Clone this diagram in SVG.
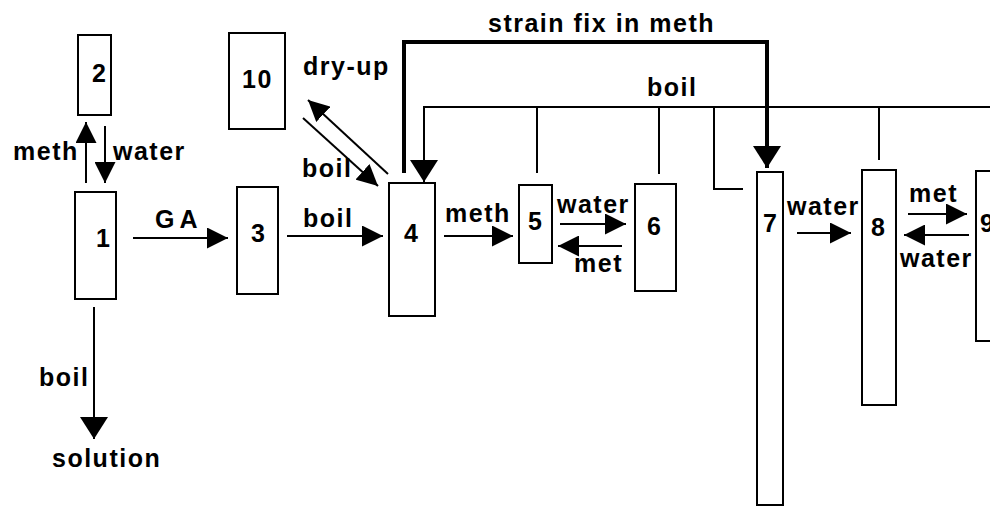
<svg xmlns="http://www.w3.org/2000/svg" width="990" height="506" viewBox="0 0 990 506">
<style>
.box{fill:#fff;stroke:#000;stroke-width:2}
.t{font-family:"Liberation Sans",Arial,sans-serif;font-weight:bold;font-size:25px;letter-spacing:1.5px;fill:#000}
.c{fill:none;stroke:#000;stroke-width:2}
.a{marker-end:url(#ah)}
.b{marker-end:url(#big)}
.thick{fill:none;stroke:#000;stroke-width:4}
</style>
<defs>
<marker id="ah" markerUnits="userSpaceOnUse" viewBox="0 0 21 21" markerWidth="21" markerHeight="21" refX="21" refY="10.5" orient="auto">
<path d="M0,0 L21,10.5 L0,21 Z" fill="#000"/>
</marker>
<marker id="big" markerUnits="userSpaceOnUse" viewBox="0 0 22 28" markerWidth="22" markerHeight="28" refX="22" refY="14" orient="auto">
<path d="M0,0 L22,14 L0,28 Z" fill="#000"/>
</marker>
</defs>
<rect width="990" height="506" fill="#fff"/>
<g id="connectors">
<line class="c a" x1="86" y1="183" x2="86" y2="122"/>
<line class="c a" x1="105" y1="126" x2="105" y2="183"/>
<line class="c a" x1="133" y1="238" x2="228" y2="238"/>
<line class="c a" x1="287" y1="236" x2="383" y2="236"/>
<line class="c a" x1="303" y1="118" x2="378" y2="186"/>
<line class="c a" x1="388" y1="174" x2="308" y2="100"/>
<line class="c b" x1="94" y1="307" x2="94" y2="439"/>
<path class="thick b" d="M404,173 V42 H767 V168"/>
<path class="c b" d="M990,107 H424 V182"/>
<path class="c" d="M537,107 V173 M659,107 V174 M714,107 V189 H743 M879,107 V160"/>
<line class="c a" x1="444" y1="236" x2="513" y2="236"/>
<line class="c a" x1="560" y1="224" x2="626" y2="224"/>
<line class="c a" x1="622" y1="246" x2="558" y2="246"/>
<line class="c a" x1="797" y1="233" x2="851" y2="233"/>
<line class="c a" x1="908" y1="214" x2="967" y2="214"/>
<line class="c a" x1="969" y1="235" x2="904" y2="235"/>
<text class="t" x="13" y="160">meth</text>
<text class="t" x="113" y="160">water</text>
<text class="t" x="155" y="228" style="letter-spacing:5px">GA</text>
<text class="t" x="303" y="227">boil</text>
<text class="t" x="302" y="177">boil</text>
<text class="t" x="303" y="75">dry-up</text>
<text class="t" x="488" y="32">strain fix in meth</text>
<text class="t" x="647" y="96">boil</text>
<text class="t" x="445" y="222">meth</text>
<text class="t" x="557" y="213">water</text>
<text class="t" x="574" y="272">met</text>
<text class="t" x="787" y="215">water</text>
<text class="t" x="909" y="202">met</text>
<text class="t" x="900" y="267">water</text>
<text class="t" x="39" y="386">boil</text>
<text class="t" x="52" y="467">solution</text>
</g>
<g id="n1"><rect class="box" x="75" y="192" width="41" height="107"/><text class="t" x="96" y="247">1</text></g>
<g id="n2"><rect class="box" x="78" y="35" width="33" height="80"/><text class="t" x="92" y="82">2</text></g>
<g id="n3"><rect class="box" x="237" y="187" width="41" height="107"/><text class="t" x="251" y="242">3</text></g>
<g id="n4"><rect class="box" x="389" y="183" width="46" height="133"/><text class="t" x="404" y="242">4</text></g>
<g id="n5"><rect class="box" x="519" y="185" width="33" height="78"/><text class="t" x="528" y="230">5</text></g>
<g id="n6"><rect class="box" x="635" y="184" width="41" height="107"/><text class="t" x="647" y="235">6</text></g>
<g id="n7"><rect class="box" x="757" y="172" width="26" height="333"/><text class="t" x="763" y="232">7</text></g>
<g id="n8"><rect class="box" x="862" y="170" width="34" height="235"/><text class="t" x="871" y="236">8</text></g>
<g id="n9"><rect class="box" x="976" y="171" width="30" height="170"/><text class="t" x="980" y="232">9</text></g>
<g id="n10"><rect class="box" x="229" y="33" width="56" height="96"/><text class="t" x="242" y="88">10</text></g>
</svg>
